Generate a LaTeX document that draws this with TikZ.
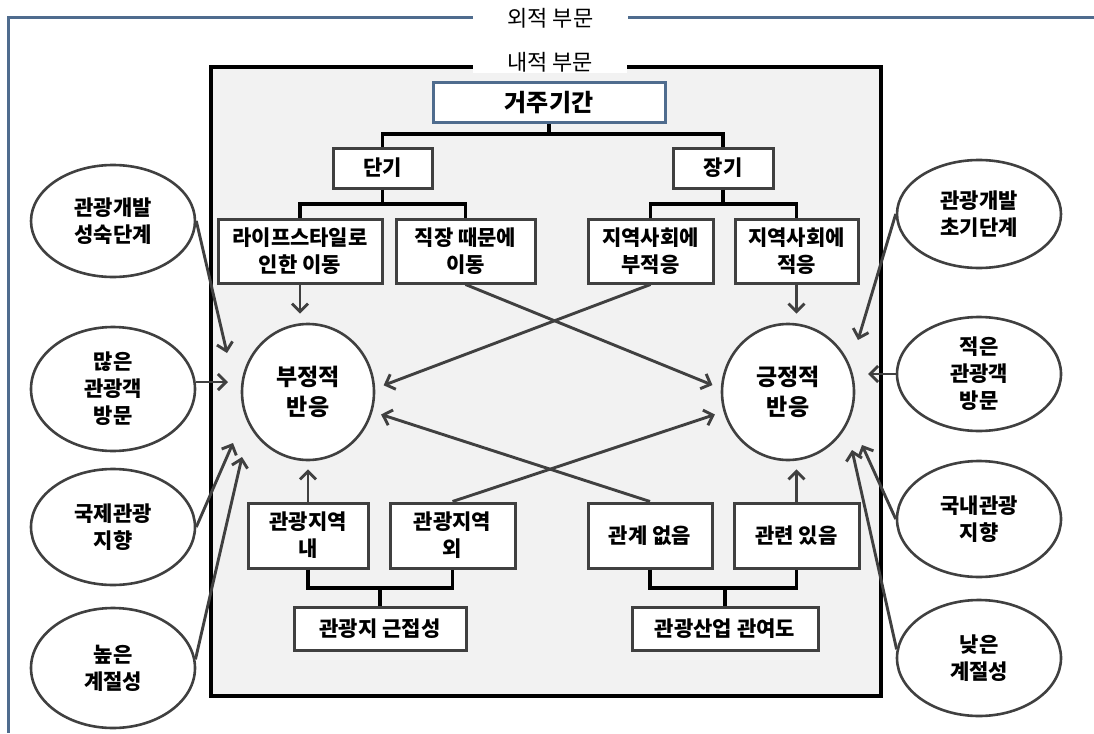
\documentclass[tikz,border=0pt]{standalone}
\usepackage{fontspec}
\setmainfont{Noto Sans CJK KR}
\usetikzlibrary{arrows.meta,shapes.geometric}
\definecolor{dg}{HTML}{404040}
\definecolor{frameblue}{HTML}{4F6C8E}
\definecolor{innerfill}{HTML}{F2F2F2}
\begin{document}
\begin{tikzpicture}[x=1pt,y=-1pt,
  rbox/.style={draw=dg, line width=3pt, fill=white, rectangle, inner sep=0pt, align=center, font=\bfseries\fontsize{21}{27}\selectfont},
  roval/.style={draw=dg, line width=2.6pt, fill=white, ellipse, inner sep=0pt, align=center, font=\bfseries\fontsize{21}{27}\selectfont},
  rresp/.style={roval, font=\bfseries\fontsize{23}{30}\selectfont},
  treeline/.style={draw=black, line width=3.2pt},
  arr/.style={draw=dg, line width=2.9pt, -{Straight Barb[length=8pt,width=16pt]}},
  lbl/.style={fill=white, inner sep=0pt, font=\fontsize{22}{26}\selectfont}
]
\useasboundingbox (0,0) rectangle (1094,733);
% outer frame
\draw[frameblue, line width=3pt] (1094,18) -- (8,18) -- (8,733);
\node[lbl, minimum width=155pt, minimum height=22pt] (outerlbl) at (550.5,18) {외적 부문};
% inner frame
\node[draw=black, line width=3.4pt, fill=innerfill, minimum width=670pt, minimum height=629pt, inner sep=0pt] (inner) at (546,381.5) {};
\node[lbl, minimum width=154pt, minimum height=22pt] (innerlbl) at (550,62) {내적 부문};

% tree coordinates
\coordinate (t1) at (549,134);
\coordinate (t2) at (382.5,204);
\coordinate (t3) at (723,204);
\coordinate (t4) at (380,588);
\coordinate (t5) at (725,588);

% boxes
\node[rbox, draw=frameblue, minimum width=232pt, minimum height=40pt, font=\bfseries\fontsize{24}{28}\selectfont] (gj) at (549,103) {거주기간};
\node[rbox, minimum width=99pt, minimum height=40pt] (dan) at (382.5,168) {단기};
\node[rbox, minimum width=100pt, minimum height=40pt] (jang) at (723,168) {장기};
\node[rbox, minimum width=164pt, minimum height=64pt] (life) at (300,251) {라이프스타일로\\인한 이동};
\node[rbox, minimum width=139pt, minimum height=64pt] (job) at (465.5,251) {직장 때문에\\이동};
\node[rbox, minimum width=125pt, minimum height=64pt] (mal) at (650.5,251) {지역사회에\\부적응};
\node[rbox, minimum width=123pt, minimum height=64pt] (adap) at (796.5,251) {지역사회에\\적응};
\node[rbox, minimum width=120pt, minimum height=65pt] (in) at (308,535.5) {관광지역\\내};
\node[rbox, minimum width=125pt, minimum height=65pt] (out) at (452.5,535.5) {관광지역\\외};
\node[rbox, minimum width=124pt, minimum height=65pt] (norel) at (650,535.5) {관계 없음};
\node[rbox, minimum width=125pt, minimum height=65pt] (rel) at (796.5,535.5) {관련 있음};
\node[rbox, minimum width=172pt, minimum height=43pt] (prox) at (380,628.5) {관광지 근접성};
\node[rbox, minimum width=186pt, minimum height=43pt] (ind) at (725,628.5) {관광산업 관여도};

% tree lines
\draw[treeline] (gj.south) -- (t1);
\draw[treeline] (dan.north) |- (t1) -| (jang.north);
\draw[treeline] (dan.south) -- (t2);
\draw[treeline] (life.north) |- (t2) -| (job.north);
\draw[treeline] (jang.south) -- (t3);
\draw[treeline] (mal.north) |- (t3) -| (adap.north);
\draw[treeline] (in.south) |- (t4) -| (out.south);
\draw[treeline] (t4) -- (prox.north);
\draw[treeline] (norel.south) |- (t5) -| (rel.south);
\draw[treeline] (t5) -- (ind.north);

% response circles
\node[rresp, minimum width=132pt, minimum height=136pt] (neg) at (308,392) {부정적\\반응};
\node[rresp, minimum width=132pt, minimum height=136pt] (pos) at (788,392) {긍정적\\반응};

% outer ellipses
\node[roval, minimum width=164pt, minimum height=112pt] (mat) at (113,221) {관광개발\\성숙단계};
\node[roval, minimum width=164pt, minimum height=124pt] (many) at (113,389) {많은\\관광객\\방문};
\node[roval, minimum width=164pt, minimum height=116pt] (intl) at (113,527) {국제관광\\지향};
\node[roval, minimum width=164pt, minimum height=120pt] (high) at (113,668) {높은\\계절성};
\node[roval, minimum width=164pt, minimum height=108pt] (early) at (979,214) {관광개발\\초기단계};
\node[roval, minimum width=164pt, minimum height=114pt] (few) at (979,374) {적은\\관광객\\방문};
\node[roval, minimum width=164pt, minimum height=116pt] (dom) at (979,519) {국내관광\\지향};
\node[roval, minimum width=164pt, minimum height=116pt] (low) at (979,658) {낮은\\계절성};

% inner arrows
\draw[arr, shorten >=9pt] (life.south) -- (life.south |- neg.north);
\draw[arr, shorten >=9pt] (adap.south) -- (adap.south |- pos.north);
\draw[arr, shorten >=8pt] (in.north) -- (in.north |- neg.south);
\draw[arr, shorten >=8pt] (rel.north) -- (rel.north |- pos.south);
\draw[arr, shorten >=9pt] (job.south) -- (pos.177);
\draw[arr, shorten >=9pt] (mal.south) -- (neg.3);
\draw[arr, shorten >=9pt] (out.north) -- (pos.197);
\draw[arr, shorten >=9pt] (norel.north) -- (neg.343);

% outer arrow tips
\coordinate (c1) at (227,353);
\coordinate (c2) at (228,382);
\coordinate (c3) at (233,443);
\coordinate (c4) at (242,457);
\coordinate (c5) at (858,340);
\coordinate (c6) at (868,374);
\coordinate (c7) at (862,445);
\coordinate (c8) at (852,450);
\draw[arr] (mat.east) -- (c1);
\draw[arr] (many.east |- c2) -- (c2);
\draw[arr] (intl.east) -- (c3);
\draw[arr] (high.6) -- (c4);
\draw[arr] (early.west) -- (c5);
\draw[arr] (few.west |- c6) -- (c6);
\draw[arr] (dom.west) -- (c7);
\draw[arr] (low.174) -- (c8);
\end{tikzpicture}
\end{document}
